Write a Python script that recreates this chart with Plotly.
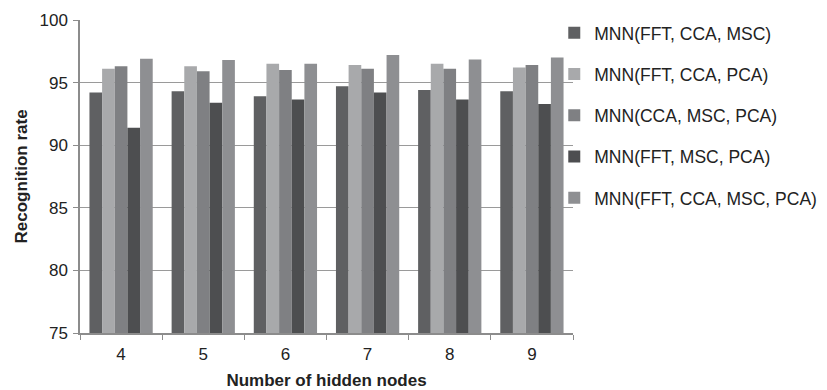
import plotly.graph_objects as go

categories = ["4", "5", "6", "7", "8", "9"]
series_names = [
    "MNN(FFT, CCA, MSC)",
    "MNN(FFT, CCA, PCA)",
    "MNN(CCA, MSC, PCA)",
    "MNN(FFT, MSC, PCA)",
    "MNN(FFT, CCA, MSC, PCA)",
]
fft_cca_msc = [94.2, 94.3, 93.9, 94.7, 94.4, 94.3]
fft_cca_pca = [96.1, 96.3, 96.5, 96.4, 96.5, 96.2]
cca_msc_pca = [96.3, 95.9, 96.0, 96.1, 96.1, 96.4]
fft_msc_pca = [91.4, 93.4, 93.65, 94.2, 93.65, 93.3]
fft_cca_msc_pca = [96.9, 96.8, 96.5, 97.2, 96.85, 97.0]
series_values = [fft_cca_msc, fft_cca_pca, cca_msc_pca, fft_msc_pca, fft_cca_msc_pca]
colors = ["#5f6062", "#a8a9ab", "#7f8083", "#4d4e50", "#8e8f92"]
y_title = "Recognition rate"
x_title = "Number of hidden nodes"

fig = go.Figure()
for name, vals, col in zip(series_names, series_values, colors):
    fig.add_trace(go.Bar(x=categories, y=vals, name=name, marker_color=col,
                         marker_line_width=0, legendgroup=name))

font_family = "Liberation Sans, Arial, sans-serif"
fig.update_layout(
    width=819, height=382,
    margin=dict(l=72, r=254, t=12, b=57, autoexpand=False),
    paper_bgcolor="white", plot_bgcolor="white",
    barmode="group", bargap=0.23, bargroupgap=0,
    font=dict(family=font_family, size=17, color="#222222"),
    legend=dict(xref="container", yref="container", x=0.667, y=0.982,
                xanchor="left", yanchor="top", maxheight=380,
                font=dict(size=17.5, color="#222222"), tracegroupgap=15.5,
                itemwidth=30, bgcolor="rgba(0,0,0,0)"),
    showlegend=True,
    annotations=[dict(text="<b>" + y_title + "</b>", xref="paper", yref="paper",
                      x=0, y=0.5, xanchor="center", yanchor="middle",
                      xshift=-59, textangle=-90, showarrow=False,
                      font=dict(size=17, color="#222222"))],
)
fig.update_xaxes(
    type="category", tickson="boundaries", ticks="outside", ticklen=5,
    tickcolor="#8c8c8c", showline=True, linecolor="#8c8c8c", linewidth=1.5,
    tickfont=dict(size=17), automargin=False, ticklabelstandoff=5,
    title=dict(text="<b>" + x_title + "</b>", font=dict(size=17), standoff=13),
)
fig.update_yaxes(
    range=[75, 100], dtick=5, ticks="outside", ticklen=5, tickcolor="#8c8c8c",
    showline=True, linecolor="#8c8c8c", linewidth=1.5,
    showgrid=True, gridcolor="#9a9a9a", gridwidth=1.2, zeroline=False,
    tickfont=dict(size=17), automargin=False, ticklabelstandoff=2,
)

fig.write_html("out.html")
